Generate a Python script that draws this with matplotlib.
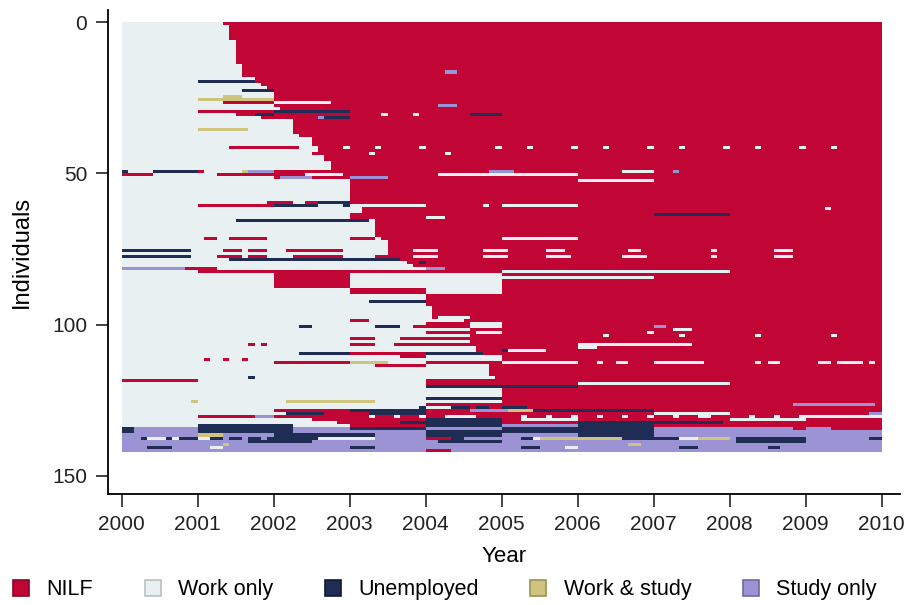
import numpy as np
import matplotlib
matplotlib.use("Agg")
import matplotlib.pyplot as plt
from matplotlib.colors import ListedColormap
from matplotlib.patches import Patch

plt.rcParams['font.family'] = ['Liberation Sans', 'DejaVu Sans']

n_rows = 142
n_months = 120
states = ["NILF", "Work only", "Unemployed", "Work & study", "Study only"]
colors = ["#c10534", "#e8f0f1", "#1f2d54", "#cfc47e", "#9b93d4"]
edge_colors = ["#8a0426", "#b8c0c2", "#111a33", "#9c9158", "#6f68a8"]
NILF, WORK, UNEMP, WSTUDY, STUDY = 0, 1, 2, 3, 4

# month (0 = Jan 2000) where each individual leaves "Work only" for NILF
onset = ([16] + [17] * 5 + [18] * 8 + [19] * 4 + [21, 21, 22, 23] + [24] * 4 +
         [16, 24, 25, 12, 18, 22] + [27] * 5 + [28, 30, 30, 30, 17, 31, 30, 32, 32, 33, 33, 33] +
         [24, 15, 24] + [36] * 7 + [23, 12, 38, 38, 36, 36] + [40] * 6 + [41, 42, 42, 42] +
         [42, 42, 42, 44, 45, 46, 51, 12] + [24] * 5 + [36, 36] + [48] * 4 + [49] * 4 +
         [54, 48, 46, 55, 48, 55, 36, 55, 43, 56, 56, 28, 44, 60, 24, 40] + [58] * 3 +
         [59, 48, 48, 48] + [60] * 4 + [60, 48, 47, 24, 26, 12, 30, 34, 36] + [120] * 8)

# extra spells: (row, first month, end month, state)
spells = [
    (16, 51, 53, STUDY), (19, 12, 21, UNEMP), (22, 19, 24, UNEMP), (24, 16, 19, WSTUDY),
    (25, 12, 24, WSTUDY), (26, 24, 33, WORK), (27, 50, 53, STUDY), (29, 24, 36, UNEMP),
    (30, 21, 24, UNEMP), (30, 41, 42, WORK), (30, 46, 47, WORK), (30, 55, 60, UNEMP),
    (31, 31, 32, STUDY), (31, 32, 36, UNEMP), (35, 12, 20, WSTUDY), (41, 28, 31, WORK),
    (43, 39, 40, WORK), (43, 51, 52, WORK),
    (49, 0, 1, UNEMP), (49, 5, 12, UNEMP), (49, 12, 13, NILF), (49, 19, 20, WSTUDY),
    (49, 20, 24, STUDY), (49, 58, 62, STUDY), (49, 79, 84, WORK), (49, 87, 88, STUDY),
    (50, 0, 5, NILF), (50, 29, 35, WORK), (50, 50, 72, WORK),
    (51, 25, 30, STUDY), (51, 36, 42, STUDY), (52, 72, 84, WORK),
    (59, 27, 29, WORK), (59, 31, 36, UNEMP),
    (60, 24, 31, UNEMP), (60, 31, 35, WORK), (60, 35, 36, UNEMP), (60, 36, 48, WORK),
    (60, 57, 58, WORK), (60, 60, 72, WORK), (61, 111, 112, WORK), (63, 84, 96, UNEMP),
    (64, 48, 51, WORK), (65, 18, 39, UNEMP),
    (71, 13, 15, NILF), (71, 17, 23, NILF), (71, 36, 40, NILF), (71, 60, 72, WORK),
    (75, 0, 11, UNEMP), (75, 16, 19, NILF), (75, 20, 23, NILF), (75, 26, 35, NILF),
    (77, 0, 11, UNEMP), (77, 15, 19, NILF), (77, 20, 23, NILF), (77, 27, 35, NILF),
    (77, 40, 42, NILF), (78, 17, 44, UNEMP), (79, 47, 48, UNEMP),
    (81, 0, 10, STUDY), (81, 10, 15, NILF), (81, 48, 51, STUDY), (82, 60, 96, WORK),
    (83, 36, 60, WORK), (84, 36, 60, WORK), (84, 60, 84, WORK), (85, 36, 60, WORK),
    (86, 36, 60, WORK), (87, 36, 60, WORK), (88, 48, 60, WORK), (89, 48, 60, WORK),
    (92, 39, 48, UNEMP), (97, 50, 55, WORK), (98, 36, 39, NILF), (99, 55, 60, WORK),
    (100, 28, 30, UNEMP), (100, 40, 44, UNEMP), (100, 55, 60, WORK), (100, 84, 86, STUDY),
    (101, 87, 90, WORK), (102, 56, 60, WORK), (102, 83, 84, WORK),
    (103, 76, 77, WORK), (103, 88, 89, WORK), (103, 100, 101, WORK), (103, 112, 113, WORK),
    (104, 40, 44, WORK), (106, 20, 21, NILF), (106, 22, 23, NILF), (106, 36, 40, NILF),
    (106, 72, 90, WORK), (107, 72, 75, WORK), (108, 60, 61, UNEMP), (108, 61, 67, WORK),
    (109, 28, 36, UNEMP), (109, 48, 57, UNEMP), (110, 48, 60, WORK),
    (111, 13, 14, NILF), (111, 16, 17, NILF), (111, 19, 20, NILF),
    (112, 36, 42, WSTUDY), (112, 42, 48, WORK), (112, 60, 72, WORK), (112, 75, 76, WORK),
    (112, 78, 80, WORK), (112, 84, 92, WORK), (112, 100, 101, WORK), (112, 102, 104, WORK),
    (112, 110, 112, WORK), (112, 113, 117, WORK), (112, 118, 119, WORK),
    (113, 48, 58, WORK), (117, 20, 21, UNEMP), (118, 0, 12, NILF), (119, 72, 96, WORK),
    (120, 48, 72, UNEMP), (124, 48, 60, UNEMP), (125, 11, 12, WSTUDY), (125, 26, 40, WSTUDY),
    (126, 106, 119, STUDY),
    (127, 47, 48, UNEMP), (127, 48, 52, WORK), (127, 52, 55, UNEMP), (127, 56, 58, UNEMP),
    (127, 60, 64, UNEMP),
    (128, 36, 48, UNEMP), (128, 55, 61, STUDY), (128, 61, 65, WSTUDY), (128, 65, 84, UNEMP),
    (129, 26, 32, UNEMP), (129, 39, 48, UNEMP), (129, 84, 96, WORK), (129, 118, 120, STUDY),
    (130, 21, 24, STUDY),
    (131, 48, 60, UNEMP), (131, 63, 72, WORK), (131, 96, 108, WORK),
    (132, 44, 60, UNEMP), (132, 72, 95, UNEMP),
    (133, 12, 27, UNEMP), (133, 48, 60, UNEMP), (133, 60, 72, STUDY), (133, 72, 84, UNEMP),
    (134, 0, 2, UNEMP), (134, 2, 12, STUDY), (134, 12, 27, UNEMP), (134, 27, 36, STUDY),
    (134, 36, 48, UNEMP), (134, 48, 60, STUDY), (134, 60, 84, UNEMP), (134, 84, 106, STUDY),
    (134, 106, 108, NILF), (134, 108, 112, STUDY), (134, 112, 120, NILF),
    (135, 0, 2, UNEMP), (135, 2, 12, STUDY), (135, 12, 27, UNEMP), (135, 27, 48, STUDY),
    (135, 48, 84, UNEMP), (135, 84, 120, STUDY),
    (136, 0, 12, STUDY), (136, 12, 16, WSTUDY), (136, 16, 24, STUDY), (136, 24, 40, UNEMP),
    (136, 40, 48, STUDY), (136, 48, 60, UNEMP), (136, 60, 72, STUDY), (136, 72, 84, UNEMP),
    (136, 84, 120, STUDY),
    (137, 0, 120, STUDY), (137, 3, 4, UNEMP), (137, 4, 7, WORK), (137, 7, 8, UNEMP),
    (137, 8, 9, WORK), (137, 9, 12, UNEMP), (137, 12, 14, WORK), (137, 14, 16, UNEMP),
    (137, 17, 19, UNEMP), (137, 20, 22, UNEMP), (137, 23, 31, UNEMP), (137, 31, 40, WORK),
    (137, 48, 52, NILF), (137, 52, 54, UNEMP), (137, 63, 65, UNEMP), (137, 65, 66, WORK),
    (137, 66, 79, WSTUDY), (137, 79, 88, UNEMP), (137, 88, 91, WORK), (137, 91, 96, WSTUDY),
    (137, 97, 108, UNEMP), (137, 118, 120, UNEMP),
    (138, 0, 120, STUDY), (138, 20, 30, UNEMP), (138, 50, 60, UNEMP), (138, 97, 108, UNEMP),
    (139, 0, 120, STUDY), (139, 16, 17, WSTUDY), (139, 80, 82, WSTUDY),
    (140, 0, 120, STUDY), (140, 4, 8, UNEMP), (140, 14, 16, WORK), (140, 36, 40, UNEMP),
    (140, 63, 66, UNEMP), (140, 70, 72, WORK), (140, 88, 91, UNEMP), (140, 102, 104, UNEMP),
    (141, 0, 120, STUDY), (141, 48, 52, NILF),
]

# single summer months of work inside long NILF spells
work_months_41 = [35, 40, 47, 59, 64, 71, 76, 83, 88, 95, 100, 107, 112]
work_months_130 = [39, 43, 47, 51, 52, 53, 54, 55, 63, 67, 71, 75, 79, 83, 87, 91, 92,
                   99, 103, 107, 108, 109, 110, 111, 112, 113, 114, 115, 116, 117, 118, 119]
work_bits_75 = [(46, 50), (57, 61), (67, 70), (80, 82), (93, 94), (103, 106)]
work_bits_77 = [(46, 50), (57, 61), (67, 71), (79, 83), (93, 94), (103, 106)]

grid = np.full((n_rows, n_months), WORK)
for i, m in enumerate(onset):
    grid[i, m:] = NILF
for row, a, b, s in spells:
    grid[row, a:b] = s
for m in work_months_41:
    grid[41, m] = WORK
for m in work_months_130:
    grid[130, m] = WORK
for a, b in work_bits_75:
    grid[75, a:b] = WORK
for a, b in work_bits_77:
    grid[77, a:b] = WORK

x_edges = 2000 + np.arange(n_months + 1) / 12
y_edges = np.arange(n_rows + 1)

fig = plt.figure(figsize=(9.08, 6.05), dpi=100)
ax = fig.add_axes([0.119, 0.1835, 0.872, 0.8])
ax.pcolormesh(x_edges, y_edges, grid, cmap=ListedColormap(colors), vmin=-0.5, vmax=4.5)

ax.set_xlim(1999.82, 2010.24)
ax.set_ylim(156, -4)
ax.set_xticks(range(2000, 2011))
ax.set_yticks([0, 50, 100, 150])
ax.tick_params(labelsize=15, length=9, width=1.2, pad=6, colors="#222222")
ax.spines['top'].set_visible(False)
ax.spines['right'].set_visible(False)
for s in ['left', 'bottom']:
    ax.spines[s].set_linewidth(1.3)
ax.set_xlabel("Year", fontsize=16, labelpad=9)
ax.set_ylabel("Individuals", fontsize=17, labelpad=14)

handles = [Patch(facecolor=c, edgecolor=e, linewidth=1.2) for c, e in zip(colors, edge_colors)]
fig.legend(handles, states, loc='lower center', bbox_to_anchor=(0.49, -0.024), ncol=5,
           frameon=False, fontsize=15.5, handlelength=0.75, handleheight=0.75,
           columnspacing=2.4, handletextpad=0.8)

fig.savefig("out.png", dpi=100)
